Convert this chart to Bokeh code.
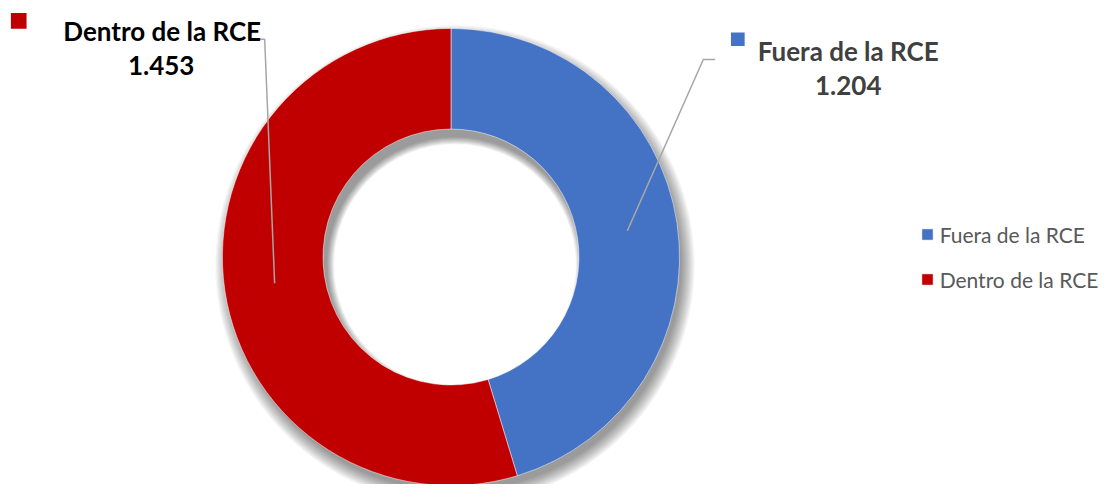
import numpy as np
from bokeh.plotting import figure
from bokeh.models import Range1d, ColumnDataSource, Legend, LegendItem
from bokeh.core.properties import value
from bokeh.embed import file_html
from bokeh.resources import INLINE

# ---- data ----
categories = ["Fuera de la RCE", "Dentro de la RCE"]
values = [1.204, 1.453]
value_labels = ["1.204", "1.453"]
colors = ["#4472C4", "#C00000"]

# ---- layout (reference-image pixels, y measured from top) ----
W, H = 1104, 484
KX, KY = W / 1120, H / 500
KR = (KX + KY) / 2
CX, CY = 457, 265
R_OUT, R_IN = 234, 131
label_title_pos = [(860, 52), (164, 32)]     # baseline positions
label_value_pos = [(860, 88), (163, 67)]
label_key_pos = [(748, 40), (18.5, 21)]
label_key_size = [14, 16]
leader_elbow = [((713, 61), (725, 61)), ((268, 40), (256, 40))]
label_colors = ["#404040", "#000000"]

def X(px):
    return px * KX

def Y(py):
    return H - py * KY

FONT = "Lato"

p = figure(width=W, height=H, output_backend="svg", toolbar_location=None,
           x_range=Range1d(0, W), y_range=Range1d(0, H),
           min_border=0, outline_line_color=None)
p.axis.visible = False
p.grid.visible = False
p.background_fill_color = "white"

# angles (clockwise from 12 o'clock)
vals = np.array(values)
frac = vals / vals.sum()
cum = np.concatenate([[0], np.cumsum(frac)])
start = np.pi / 2 - 2 * np.pi * cum[:-1]
end = np.pi / 2 - 2 * np.pi * cum[1:]
mid = (start + end) / 2

cx, cy = X(CX), Y(CY)
ro, ri = R_OUT * KR, R_IN * KR

# soft shadow (offset down-right)
for i in range(13):
    p.annular_wedge(x=cx + 4, y=cy - 8, inner_radius=ri - i * 0.6,
                    outer_radius=ro - 2 + i * 1.1, start_angle=0, end_angle=2 * np.pi,
                    fill_color="black", fill_alpha=0.035, line_color=None)

src = ColumnDataSource(dict(cat=categories, val=values, start=start, end=end, color=colors))
w = p.annular_wedge(x=cx, y=cy, inner_radius=ri, outer_radius=ro,
                    start_angle="start", end_angle="end", direction="clock",
                    fill_color="color", line_color="white", line_width=0.5, source=src)

# leader lines from slice centroid to label
rm = (ri + ro) / 2
for k in range(len(values)):
    x0 = cx + rm * np.cos(mid[k])
    y0 = cy + rm * np.sin(mid[k])
    (ex, ey), (hx, hy) = leader_elbow[k]
    p.line([x0, X(ex), X(hx)], [y0, Y(ey), Y(hy)], line_color="#A6A6A6", line_width=1.5)

# data labels
p.text(x=[X(q[0]) for q in label_title_pos], y=[Y(q[1]) for q in label_title_pos],
       text=categories, text_font=value(FONT), text_font_style="bold",
       text_font_size="26px", text_align="center", text_baseline="alphabetic",
       text_color=label_colors)
p.text(x=[X(q[0]) for q in label_value_pos], y=[Y(q[1]) for q in label_value_pos],
       text=value_labels, text_font=value(FONT), text_font_style="bold",
       text_font_size="26px", text_align="center", text_baseline="alphabetic",
       text_color=label_colors)
for k in range(len(values)):
    p.scatter(x=[X(label_key_pos[k][0])], y=[Y(label_key_pos[k][1])], marker="square",
              size=label_key_size[k] * KR, fill_color=colors[k], line_color=None)

# legend
items = [LegendItem(label=categories[k], renderers=[w], index=k) for k in range(len(values))]
leg = Legend(items=items, location=(X(935) - 2, Y(296) - 5), orientation="vertical",
             label_text_font=FONT, label_text_font_size="21px", label_text_color="#595959",
             glyph_width=14, glyph_height=14, label_height=14, label_standoff=6,
             spacing=20, padding=0, margin=0, border_line_color=None,
             background_fill_alpha=0)
p.add_layout(leg, "center")

open("out.html", "w").write(file_html(p, INLINE))
